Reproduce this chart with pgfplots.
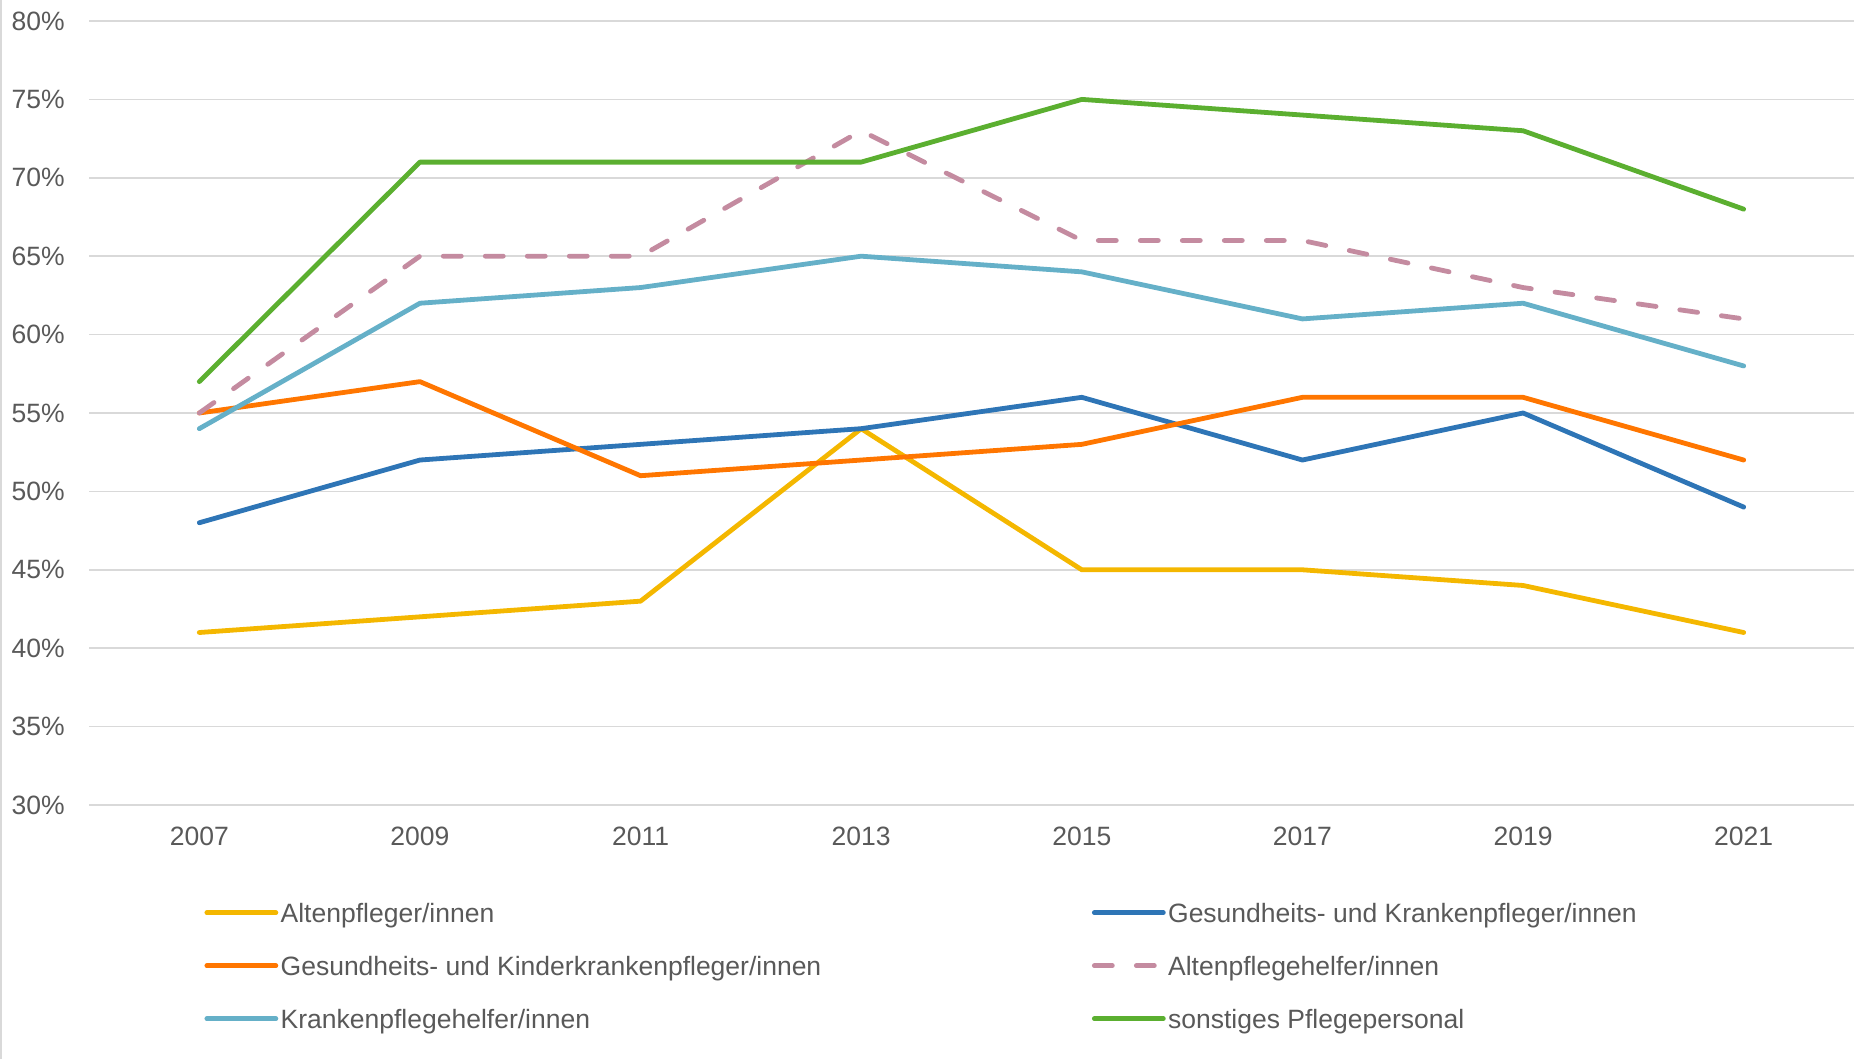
\documentclass[border=0pt]{standalone}
\usepackage{fontspec}
\setmainfont{Liberation Sans}
\usepackage{pgfplots}
\pgfplotsset{compat=1.18}
\definecolor{cYellow}{RGB}{244,183,0}
\definecolor{cBlue}{RGB}{46,117,182}
\definecolor{cOrange}{RGB}{255,118,0}
\definecolor{cPink}{RGB}{196,139,160}
\definecolor{cLight}{RGB}{101,176,200}
\definecolor{cGreen}{RGB}{91,175,48}
\definecolor{textgray}{RGB}{89,89,89}
\definecolor{gridgray}{RGB}{217,217,217}
\newcommand{\lblfont}{\fontsize{13.25pt}{16pt}\selectfont}
\begin{document}
\begin{tikzpicture}
\path[use as bounding box] (0,0) rectangle (931.5pt,529.5pt);
\draw[gridgray, line width=1pt] (0.5pt,0pt) -- (0.5pt,529.5pt);
\begin{axis}[
  at={(44.5pt,127pt)}, anchor=south west,
  scale only axis, width=882.5pt, height=392pt,
  xmin=-0.5, xmax=7.5, ymin=30, ymax=80,
  xtick={0,1,2,3,4,5,6,7},
  xticklabels={2007,2009,2011,2013,2015,2017,2019,2021},
  ytick={30,35,40,45,50,55,60,65,70,75,80},
  yticklabel={\pgfmathprintnumber[fixed,precision=0]{\tick}\%},
  /pgf/number format/assume math mode=true,
  axis line style={draw=none},
  major tick length=0pt,
  ymajorgrids,
  grid style={gridgray, line width=0.85pt},
  every tick label/.append style={font=\lblfont, text=textgray},
  xticklabel style={anchor=north, inner sep=0pt, yshift=-11pt},
  yticklabel style={anchor=east, inner sep=0pt, xshift=-12pt},
  every axis plot/.append style={line width=2.4pt, line join=round, line cap=round},
  legend columns=2,
  legend cell align=left,
  legend style={at={(axis description cs:0.0652,-0.1237)}, anchor=north west,
    draw=none, fill=none, inner sep=0pt, font=\lblfont, text=textgray,
    nodes={inner sep=0pt, text height=10pt, text depth=3pt},
    row sep=13.5pt,
    /tikz/every odd column/.append style={column sep=1.2pt},
    /tikz/every even column/.append style={column sep=135.3pt}},
  legend image code/.code={\draw[#1] (0pt,1.3pt) -- (34.5pt,1.3pt);},
]
\addplot[cYellow] coordinates {(0,41) (1,42) (2,43) (3,54) (4,45) (5,45) (6,44) (7,41)};
\addlegendentry{Altenpfleger/innen}
\addplot[cBlue] coordinates {(0,48) (1,52) (2,53) (3,54) (4,56) (5,52) (6,55) (7,49)};
\addlegendentry{Gesundheits- und Krankenpfleger/innen}
\addplot[cOrange] coordinates {(0,55) (1,57) (2,51) (3,52) (4,53) (5,56) (6,56) (7,52)};
\addlegendentry{Gesundheits- und Kinderkrankenpfleger/innen}
\addplot[cPink, dash pattern=on 9pt off 12pt] coordinates {(0,55) (1,65) (2,65) (3,73) (4,66) (5,66) (6,63) (7,61)};
\addlegendentry{Altenpflegehelfer/innen}
\addplot[cLight] coordinates {(0,54) (1,62) (2,63) (3,65) (4,64) (5,61) (6,62) (7,58)};
\addlegendentry{Krankenpflegehelfer/innen}
\addplot[cGreen] coordinates {(0,57) (1,71) (2,71) (3,71) (4,75) (5,74) (6,73) (7,68)};
\addlegendentry{sonstiges Pflegepersonal}
\end{axis}
\end{tikzpicture}
\end{document}
